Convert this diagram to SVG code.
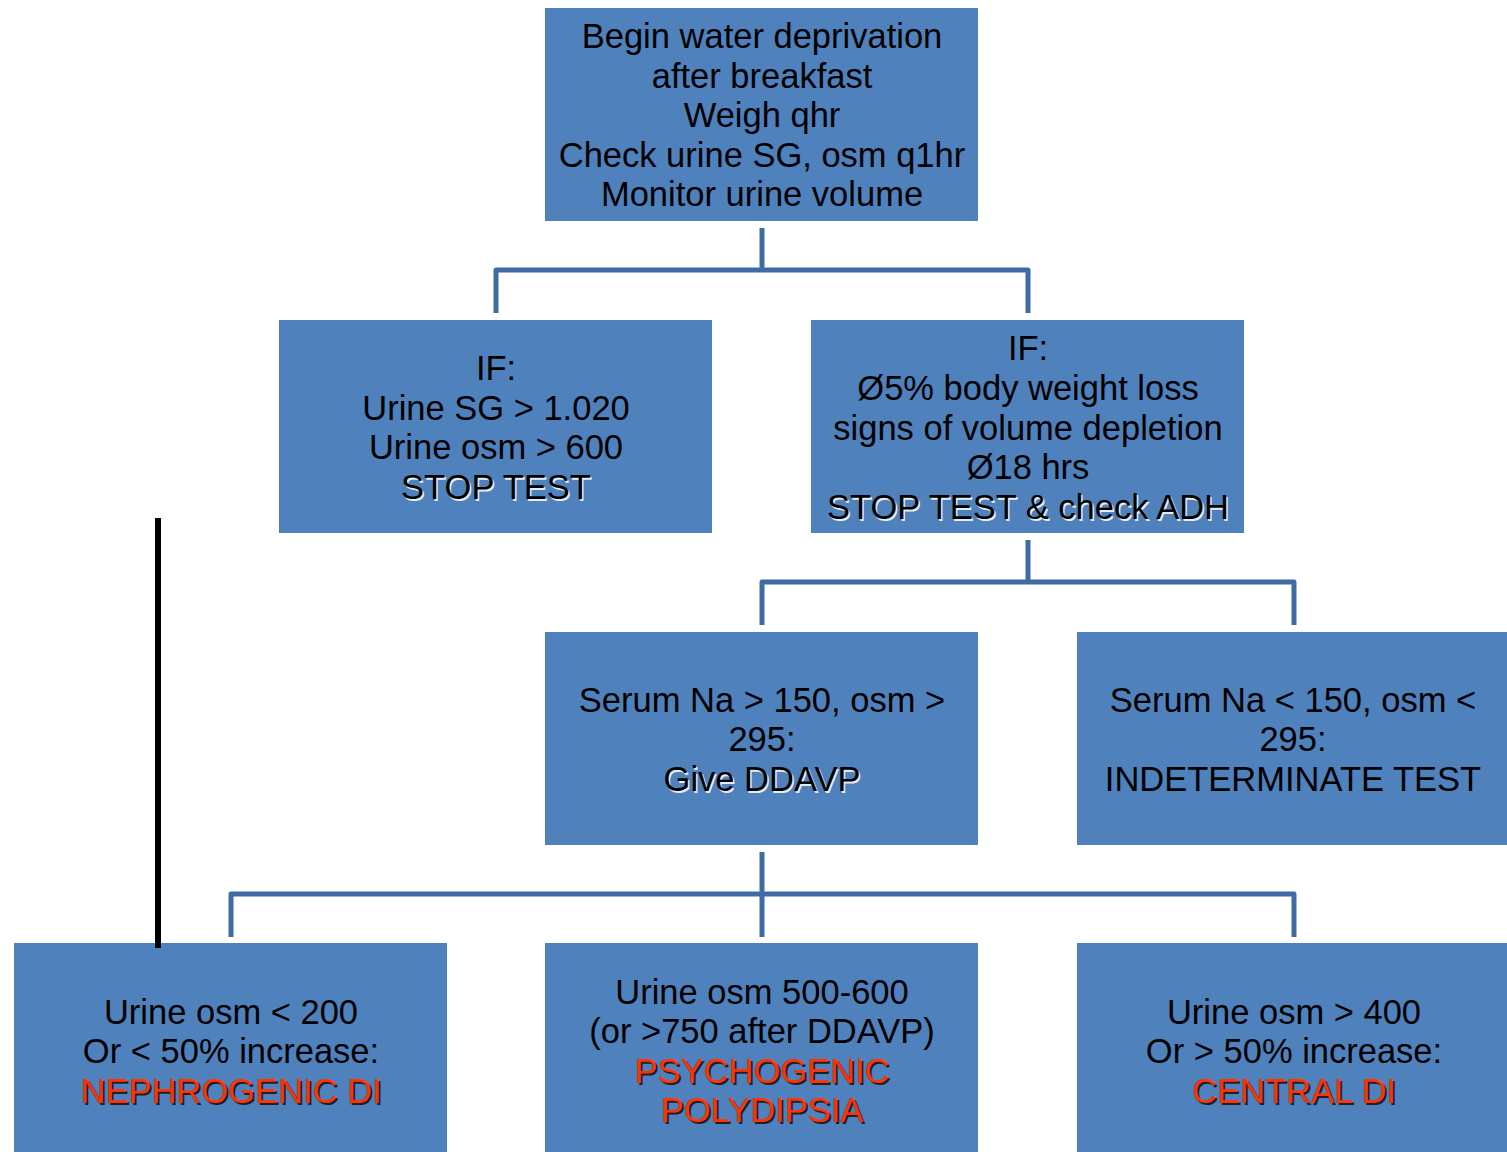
<svg xmlns="http://www.w3.org/2000/svg" width="1507" height="1152" viewBox="0 0 1507 1152">
<style>
.box{fill:#4F81BD;}
.t{font-family:"Liberation Sans",Arial,sans-serif;font-size:34.5px;fill:#000;text-anchor:middle;}
.sh{fill:#fff;opacity:0.85;}
.red{fill:#FF3300;}
.dsh{fill:#111;opacity:0.85;}
.c{fill:none;stroke:#3F6CA3;stroke-width:5;stroke-linejoin:round;}
</style>
<rect width="1507" height="1152" fill="#fff"/>
<g id="n1">
<rect class="box" x="545" y="8" width="433" height="213"/>
<text class="t" x="762" y="48">Begin water deprivation</text>
<text class="t" x="762" y="88">after breakfast</text>
<text class="t" x="762" y="127">Weigh qhr</text>
<text class="t" x="762" y="167">Check urine SG, osm q1hr</text>
<text class="t" x="762" y="206">Monitor urine volume</text>
</g>
<g id="n2">
<rect class="box" x="279" y="320" width="433" height="213"/>
<text class="t" x="496" y="380">IF:</text>
<text class="t" x="496" y="420">Urine SG &gt; 1.020</text>
<text class="t" x="496" y="459">Urine osm &gt; 600</text>
<text class="t sh" x="497.5" y="500.5">STOP TEST</text>
<text class="t" x="496" y="499">STOP TEST</text>
</g>
<g id="n3">
<rect class="box" x="811" y="320" width="433" height="213"/>
<text class="t" x="1028" y="360">IF:</text>
<text class="t" x="1028" y="400">Ø5% body weight loss</text>
<text class="t" x="1028" y="440">signs of volume depletion</text>
<text class="t" x="1028" y="479">Ø18 hrs</text>
<text class="t sh" x="1029.5" y="520.5">STOP TEST &amp; check ADH</text>
<text class="t" x="1028" y="519">STOP TEST &amp; check ADH</text>
</g>
<g id="n4">
<rect class="box" x="545" y="632" width="433" height="213"/>
<text class="t" x="762" y="712">Serum Na &gt; 150, osm &gt;</text>
<text class="t" x="762" y="751">295:</text>
<text class="t sh" x="763.5" y="792.5">Give DDAVP</text>
<text class="t" x="762" y="791">Give DDAVP</text>
</g>
<g id="n5">
<rect class="box" x="1077" y="632" width="430" height="213"/>
<text class="t" x="1293" y="712">Serum Na &lt; 150, osm &lt;</text>
<text class="t" x="1293" y="751">295:</text>
<text class="t" x="1293" y="791">INDETERMINATE TEST</text>
</g>
<g id="n6">
<rect class="box" x="14" y="943" width="433" height="209"/>
<text class="t" x="231" y="1024">Urine osm &lt; 200</text>
<text class="t" x="231" y="1063">Or &lt; 50% increase:</text>
<text class="t dsh" x="233" y="1105">NEPHROGENIC DI</text>
<text class="t red" x="231" y="1103">NEPHROGENIC DI</text>
</g>
<g id="n7">
<rect class="box" x="545" y="943" width="433" height="209"/>
<text class="t" x="762" y="1004">Urine osm 500-600</text>
<text class="t" x="762" y="1043">(or &gt;750 after DDAVP)</text>
<text class="t dsh" x="764" y="1085">PSYCHOGENIC</text>
<text class="t red" x="762" y="1083">PSYCHOGENIC</text>
<text class="t dsh" x="764" y="1124">POLYDIPSIA</text>
<text class="t red" x="762" y="1122">POLYDIPSIA</text>
</g>
<g id="n8">
<rect class="box" x="1077" y="943" width="430" height="209"/>
<text class="t" x="1294" y="1024">Urine osm &gt; 400</text>
<text class="t" x="1294" y="1063">Or &gt; 50% increase:</text>
<text class="t dsh" x="1296" y="1105">CENTRAL DI</text>
<text class="t red" x="1294" y="1103">CENTRAL DI</text>
</g>
<g id="connectors">
<path class="c" d="M762 228 V270 M496 313 V270 H1028 V313"/>
<path class="c" d="M1028 540 V582 M762 625 V582 H1294 V625"/>
<path class="c" d="M762 852 V937 M231 937 V894 H1294 V937"/>
<line x1="158" y1="518" x2="158" y2="948" stroke="#000" stroke-width="6"/>
</g>
</svg>
